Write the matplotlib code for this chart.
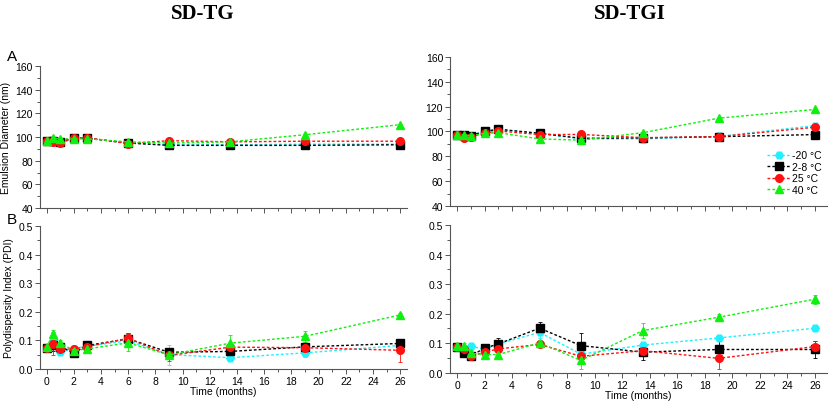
import numpy as np
import matplotlib.pyplot as plt
from matplotlib.ticker import MultipleLocator, NullFormatter

months = [0, 0.5, 1, 2, 3, 6, 9, 13.5, 19, 26]
labels = ['-20 °C', '2-8 °C', '25 °C', '40 °C']

# emulsion diameter (nm)
tg_size = {
    '-20 °C': [97, 97, 96, 99, 99, 95, 93.5, 93.5, 94, 94],
    '2-8 °C': [97, 97, 96, 99, 99, 95, 93, 93, 93, 93.5],
    '25 °C': [97, 96, 95, 99, 99.5, 94.5, 97, 96, 96.5, 96.5],
    '40 °C': [97, 99.5, 98.5, 98.5, 98.5, 96, 95, 96, 102, 110.5],
}
tgi_size = {
    '-20 °C': [97, 97, 96.7, 100.4, 101.5, 98.5, 94, 94, 96, 104.7],
    '2-8 °C': [97, 97, 96.7, 100, 101.8, 98.5, 94.5, 94.8, 95.8, 97.5],
    '25 °C': [97, 95, 95.9, 98.5, 100.4, 97.5, 97.6, 95, 95.8, 103.4],
    '40 °C': [97.5, 97.3, 96.5, 98.5, 99, 94, 93, 99, 110.7, 117.7],
}

# polydispersity index
tg_pdi = {
    '-20 °C': [0.072, 0.099, 0.058, 0.07, 0.08, 0.098, 0.05, 0.039, 0.056, 0.082],
    '2-8 °C': [0.072, 0.082, 0.078, 0.056, 0.082, 0.105, 0.058, 0.061, 0.077, 0.089],
    '25 °C': [0.072, 0.088, 0.069, 0.07, 0.078, 0.107, 0.047, 0.076, 0.074, 0.065],
    '40 °C': [0.075, 0.121, 0.091, 0.064, 0.07, 0.091, 0.049, 0.09, 0.114, 0.189],
}
tg_pdi_err = {
    '-20 °C': [0.01, 0.02, 0.01, 0.01, 0.015, 0.01, 0.035, 0.008, 0.015, 0.01],
    '2-8 °C': [0.008, 0.02, 0.01, 0.01, 0.01, 0.02, 0.015, 0.01, 0.01, 0.015],
    '25 °C': [0.008, 0.04, 0.01, 0.01, 0.015, 0.02, 0.02, 0.01, 0.01, 0.04],
    '40 °C': [0.01, 0.015, 0.01, 0.015, 0.015, 0.03, 0.015, 0.03, 0.02, 0.008],
}
tgi_pdi = {
    '-20 °C': [0.088, 0.08, 0.09, 0.08, 0.098, 0.137, 0.063, 0.094, 0.118, 0.151],
    '2-8 °C': [0.088, 0.067, 0.058, 0.083, 0.098, 0.151, 0.092, 0.07, 0.079, 0.079],
    '25 °C': [0.088, 0.079, 0.056, 0.07, 0.081, 0.096, 0.056, 0.075, 0.049, 0.089],
    '40 °C': [0.09, 0.09, 0.066, 0.062, 0.062, 0.101, 0.042, 0.143, 0.188, 0.249],
}
tgi_pdi_err = {
    '-20 °C': [0.008, 0.01, 0.008, 0.01, 0.01, 0.02, 0.015, 0.01, 0.01, 0.01],
    '2-8 °C': [0.008, 0.015, 0.01, 0.01, 0.02, 0.022, 0.042, 0.025, 0.03, 0.028],
    '25 °C': [0.008, 0.01, 0.008, 0.015, 0.01, 0.01, 0.015, 0.01, 0.035, 0.02],
    '40 °C': [0.008, 0.01, 0.01, 0.015, 0.01, 0.01, 0.03, 0.025, 0.01, 0.015],
}

colors = {'-20 °C': '#22F0FF', '2-8 °C': 'black', '25 °C': '#FF1010', '40 °C': '#10F010'}
markers = {'-20 °C': 'H', '2-8 °C': 's', '25 °C': 'o', '40 °C': '^'}

plt.rcParams['font.family'] = ['Liberation Sans', 'DejaVu Sans']
plt.rcParams['font.size'] = 7.5

fig = plt.figure(figsize=(8.29, 4.02), dpi=100)
axA1 = fig.add_axes([0.048, 0.480, 0.443, 0.353])
axA2 = fig.add_axes([0.543, 0.485, 0.455, 0.371])
axB1 = fig.add_axes([0.048, 0.080, 0.443, 0.355])
axB2 = fig.add_axes([0.543, 0.070, 0.455, 0.368])


def style(ax, ylim, major, minor, xlabels):
    ax.set_xlim(-0.5, 26.5)
    ax.set_ylim(*ylim)
    for s in ['top', 'right']:
        ax.spines[s].set_visible(False)
    for s in ['left', 'bottom']:
        ax.spines[s].set_color('#555555')
        ax.spines[s].set_linewidth(0.8)
    ax.xaxis.set_major_locator(MultipleLocator(2))
    ax.xaxis.set_minor_locator(MultipleLocator(1))
    ax.yaxis.set_major_locator(MultipleLocator(major))
    ax.yaxis.set_minor_locator(MultipleLocator(minor))
    ax.tick_params(which='both', direction='out', color='#555555', width=0.7)
    ax.tick_params(which='major', length=3.5, pad=1.5)
    ax.tick_params(which='minor', length=2)
    if not xlabels:
        ax.xaxis.set_major_formatter(NullFormatter())
    else:
        ax.set_xlabel('Time (months)', labelpad=0)


def draw(ax, data, err=None):
    for lab in labels:
        ax.errorbar(months, data[lab], yerr=None if err is None else err[lab],
                    color=colors[lab], marker=markers[lab], markersize=5.5,
                    linestyle=(0, (2, 1.5)), linewidth=1, elinewidth=0.6,
                    ecolor=colors[lab], capsize=1.5, capthick=0.6, alpha=1,
                    label=lab, clip_on=False)


draw(axA1, tg_size)
draw(axA2, tgi_size)
draw(axB1, tg_pdi, tg_pdi_err)
draw(axB2, tgi_pdi, tgi_pdi_err)

style(axA1, (40, 160), 20, 10, False)
style(axA2, (40, 160), 20, 10, False)
style(axB1, (0, 0.5), 0.1, 0.05, True)
style(axB2, (0, 0.5), 0.1, 0.05, True)
axA2.set_xlim(-0.5, 26.9)
axB2.set_xlim(-0.5, 26.9)

axA1.set_ylabel('Emulsion Diameter (nm)', labelpad=3)
axB1.set_ylabel('Polydispersity Index (PDI)', labelpad=3)

handles, labs = axA2.get_legend_handles_labels()
axA2.legend(handles, labs, loc='lower right', bbox_to_anchor=(1.0, 0.04),
            frameon=False, fontsize=7.5, handlelength=2.2, handletextpad=0.2,
            labelspacing=0.15, borderpad=0)

fig.text(0.245, 0.965, 'SD-TG', ha='center', va='center', fontsize=15,
         fontweight='bold', family='Liberation Serif')
fig.text(0.760, 0.965, 'SD-TGI', ha='center', va='center', fontsize=15,
         fontweight='bold', family='Liberation Serif')
fig.text(0.008, 0.858, 'A', fontsize=11, va='center')
fig.text(0.008, 0.452, 'B', fontsize=11, va='center')

fig.savefig('out.png', dpi=100)
